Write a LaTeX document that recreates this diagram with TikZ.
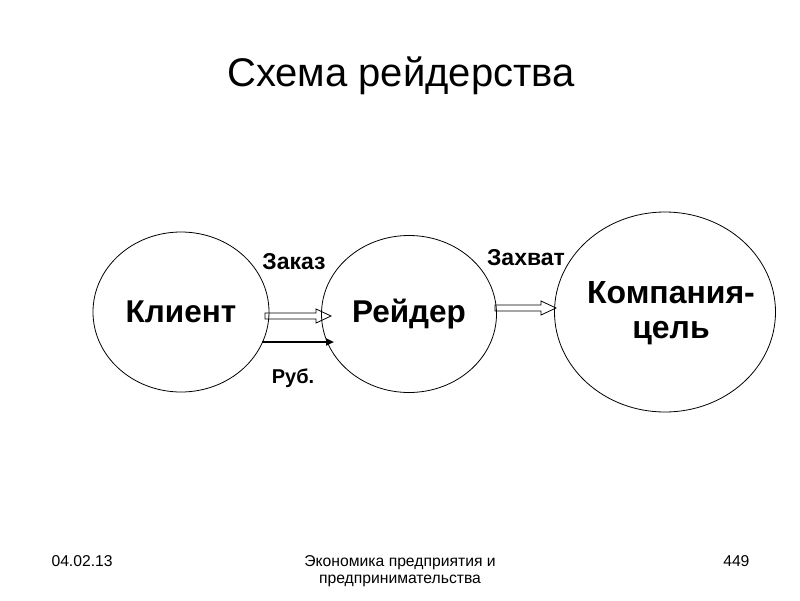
\documentclass[tikz,border=0pt]{standalone}
\usepackage{fontspec}
\setmainfont{Liberation Sans}
\usetikzlibrary{shapes.geometric,arrows.meta,calc}

\begin{document}
\begin{tikzpicture}[x=1pt,y=-1pt,
  party/.style={draw,ellipse,line width=0.8pt},
  big/.style={font=\fontsize{31.5}{36}\selectfont\bfseries},
  deal/.style={font=\fontsize{23}{26}\selectfont\bfseries},
  foot/.style={font=\fontsize{15.7}{17.5}\selectfont}]
  \useasboundingbox (0,0) rectangle (800,600);
  \node[font=\fontsize{40}{46}\selectfont] (title) at (401,76) {Схема рейдерства};

  \node[party,minimum width=176pt,minimum height=160pt] (klient) at (181,312) {};
  \node[party,minimum width=175pt,minimum height=157pt] (reider) at (409,314) {};
  \node[party,minimum width=221pt,minimum height=200pt] (firma) at (665,312) {};
  \node[big] at (klient) {Клиент};
  \node[big] at (reider) {Рейдер};
  \node[big,align=center,font=\fontsize{32}{35}\selectfont\bfseries] at (671,313) {Компания-\\цель};

  % order, payment, capture
  \coordinate (zakaz1) at (265,316);
  \coordinate (zakaz2) at (331,316);
  \coordinate (rub1) at (262,342);
  \coordinate (rub2) at (334,342);
  \coordinate (zaxvat1) at (495,308);
  \coordinate (zaxvat2) at (556,308);
  \draw[line width=0.8pt] (zakaz1) ++(0,-3) -- ($(zakaz2)+(-15,-3)$) -- ++(0,-4)
    -- (zakaz2) -- ++(-15,7) -- ++(0,-4) -- ($(zakaz1)+(0,3)$) -- cycle;
  \draw[line width=0.8pt] (zaxvat1) ++(0,-3) -- ($(zaxvat2)+(-15,-3)$) -- ++(0,-4)
    -- (zaxvat2) -- ++(-15,7) -- ++(0,-4) -- ($(zaxvat1)+(0,3)$) -- cycle;
  \draw[-{Triangle[length=8pt,width=7pt]},line width=2.2pt] (rub1) -- (rub2);
  \node[deal] (zakaz) at (294,262) {Заказ};
  \node[deal,font=\fontsize{20}{24}\selectfont\bfseries] (rub) at (293,378) {Руб.};
  \node[deal] (zaxvat) at (526,258) {Захват};

  \node[foot,anchor=west] (date) at (48,561) {04.02.13};
  \node[foot,align=center] (kurs) at (400,571) {Экономика предприятия и\\предпринимательства};
  \node[foot,anchor=east] (page) at (753,561) {449};
\end{tikzpicture}
\end{document}
